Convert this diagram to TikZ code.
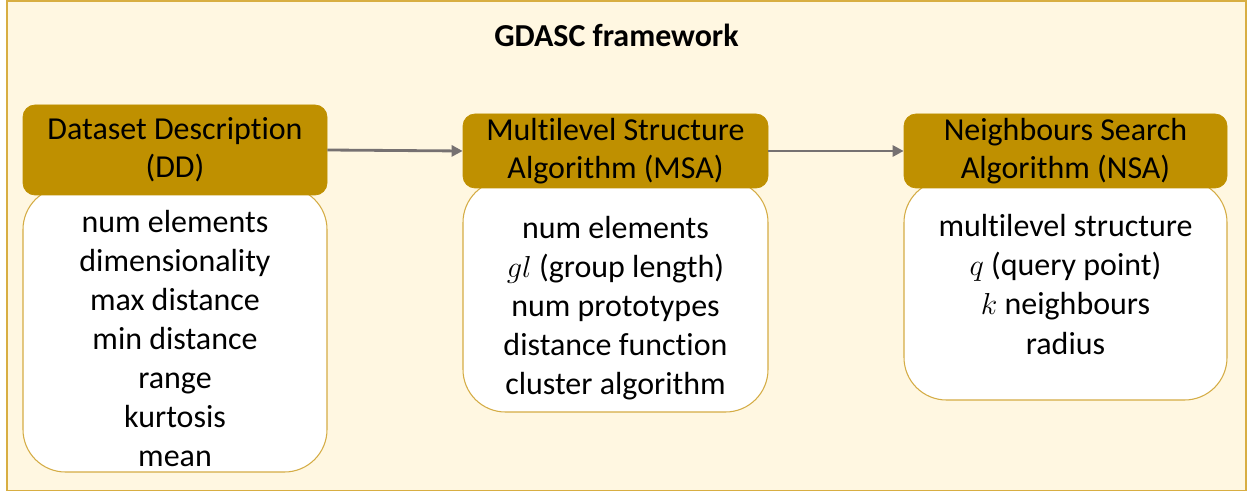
\documentclass[tikz,border=0pt]{standalone}
\usepackage{fontspec}
\setmainfont[Ligatures=NoCommon]{Carlito}
\usetikzlibrary{arrows.meta}

\definecolor{bgcream}{HTML}{FFF7E1}
\definecolor{framegold}{HTML}{D8AE42}
\definecolor{headgold}{HTML}{BF9000}
\definecolor{bodyedge}{HTML}{D4AC44}
\definecolor{arrowgray}{HTML}{767171}

\tikzset{
	stagehead/.style={fill=headgold, draw=headgold, rounded corners=0.24cm, inner sep=0pt,
		align=center, font=\fontsize{18.2}{21.6}\selectfont},
	stagebody/.style={fill=white, draw=bodyedge, line width=0.6pt, rounded corners=0.85cm, inner sep=0pt},
	paramlist/.style={align=center, inner sep=0pt, font=\fontsize{18.2}{22.2}\selectfont},
	flowarrow/.style={draw=arrowgray, line width=1.6pt, -{Triangle[length=0.22cm, width=0.22cm]}}
}

\begin{document}
\begin{tikzpicture}
			%%%%% START %%%%%
			
			\useasboundingbox (0, 0) rectangle (24.96, 9.84);
			\draw[draw=framegold, fill=bgcream, line width=0.04cm] (0.14, 0.03) rectangle (24.92, 9.82);
			
			\node[font=\fontsize{18.2}{22}\selectfont\bfseries] (title) at (12.33, 9.14) {GDASC framework};
			
			% parameter boxes (under the headers)
			\node[stagebody, minimum width=6.08cm, minimum height=5.70cm] (ddbox) at (3.5, 3.25) {};
			\node[stagebody, minimum width=6.10cm, minimum height=4.64cm] (msabox) at (12.31, 3.92) {};
			\node[stagebody, minimum width=6.46cm, minimum height=4.40cm] (nsabox) at (21.31, 4.04) {};
			
			\node[paramlist] (ddlist) at (3.5, 3.07) {num elements\\dimensionality\\max distance\\min distance\\range\\kurtosis\\mean};
			\node[paramlist] (msalist) at (12.31, 3.67) {num elements\\$gl$ (group length)\\num prototypes\\distance function\\cluster algorithm};
			\node[paramlist] (nsalist) at (21.31, 4.15) {multilevel structure\\$q$ (query point)\\$k$ neighbours\\radius};
			
			% stage headers
			\node[stagehead, minimum width=6.08cm, minimum height=1.80cm] (dd) at (3.5, 6.84) {Dataset Description\\(DD)};
			\node[stagehead, minimum width=6.10cm, minimum height=1.48cm] (msa) at (12.31, 6.82) {Multilevel Structure\\Algorithm (MSA)};
			\node[stagehead, minimum width=6.46cm, minimum height=1.48cm] (nsa) at (21.31, 6.82) {Neighbours Search\\Algorithm (NSA)};
			
			\draw[flowarrow] (dd.east) -- (msa.west);
			\draw[flowarrow] (msa.east) -- (nsa.west);
			
			%%%%% END %%%%%
\end{tikzpicture}
\end{document}
